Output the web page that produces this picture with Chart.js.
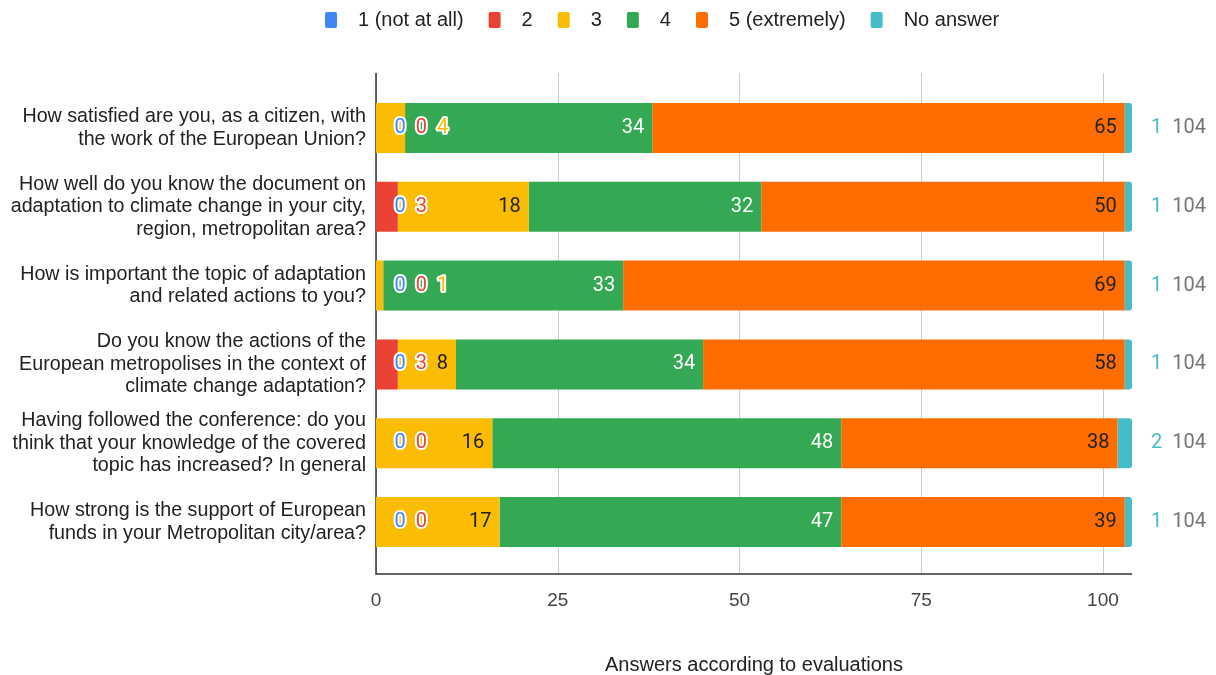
<!DOCTYPE html>
<html>
<head>
<meta charset="utf-8">
<script src="https://cdn.jsdelivr.net/npm/chart.js@4"></script>
<style>
html, body { margin: 0; padding: 0; background: #fff; }
#holder { width: 1216px; height: 675px; }
</style>
</head>
<body>
<div id="holder"><canvas id="myChart" width="1216" height="675"></canvas></div>
<script>
// questions (y categories)
const questions = [
    ['How satisfied are you, as a citizen, with', 'the work of the European Union?'],
    ['How well do you know the document on', 'adaptation to climate change in your city,', 'region, metropolitan area?'],
    ['How is important the topic of adaptation', 'and related actions to you?'],
    ['Do you know the actions of the', 'European metropolises in the context of', 'climate change adaptation?'],
    ['Having followed the conference: do you', 'think that your knowledge of the covered', 'topic has increased? In general'],
    ['How strong is the support of European', 'funds in your Metropolitan city/area?']
];

const seriesNames = ['1 (not at all)', '2', '3', '4', '5 (extremely)', 'No answer'];
const seriesColors = ['#4285F4', '#EA4335', '#FBBC04', '#34A853', '#FF6D01', '#46BDC6'];
// colour of a label when it sits inside its own bar
const insideColors = ['#ffffff', '#ffffff', '#222222', '#ffffff', '#222222', '#ffffff'];

const notAtAll  = [0, 0, 0, 0, 0, 0];
const two       = [0, 3, 0, 3, 0, 0];
const three     = [4, 18, 1, 8, 16, 17];
const four      = [34, 32, 33, 34, 48, 47];
const extremely = [65, 50, 69, 58, 38, 39];
const noAnswer  = [1, 1, 1, 1, 2, 1];

const xTicks = [0, 25, 50, 75, 100];
const xMax = 104;
const xTitle = 'Answers according to evaluations';

const allSeries = [notAtAll, two, three, four, extremely, noAnswer];

// gridlines + axis lines, a bit taller than the chart area like the original
const gridPlugin = {
    id: 'gridLines',
    beforeDatasetsDraw(chart) {
        const ctx = chart.ctx;
        const xs = chart.scales.x;
        const area = chart.chartArea;
        const top = area.top - 15.5;
        const bottom = area.bottom + 12.5;
        ctx.save();
        ctx.lineWidth = 1;
        ctx.strokeStyle = '#cccccc';
        xs.ticks.forEach(t => {
            const px = Math.round(xs.getPixelForValue(t.value)) + 0.5;
            ctx.beginPath();
            ctx.moveTo(px, top);
            ctx.lineTo(px, bottom);
            ctx.stroke();
        });
        ctx.strokeStyle = '#333333';
        ctx.lineWidth = 1.5;
        ctx.beginPath();
        ctx.moveTo(area.left, top);
        ctx.lineTo(area.left, bottom);
        ctx.lineTo(area.right, bottom);
        ctx.stroke();
        ctx.restore();
    }
};

// value labels: inside the segment when room, else packed from the left with a halo
const labelPlugin = {
    id: 'segLabels',
    afterDatasetsDraw(chart) {
        const ctx = chart.ctx;
        const xs = chart.scales.x;
        const last = chart.data.datasets.length - 1;
        ctx.save();
        ctx.font = '20px Roboto';
        ctx.textBaseline = 'middle';
        ctx.textAlign = 'left';
        ctx.lineJoin = 'round';
        for (let i = 0; i < chart.data.labels.length; i++) {
            let cursor = xs.left + 18.5;
            for (let d = 0; d < last; d++) {
                const bar = chart.getDatasetMeta(d).data[i];
                const v = chart.data.datasets[d].data[i];
                const txt = String(v);
                const w = ctx.measureText(txt).width;
                const start = Math.min(bar.base, bar.x);
                const end = Math.max(bar.base, bar.x);
                const inLeft = end - 8 - w;
                if (v > 0 && inLeft >= start + 6 && inLeft >= cursor - 4) {
                    ctx.fillStyle = insideColors[d];
                    ctx.fillText(txt, inLeft, bar.y);
                    cursor = end + 8;
                } else {
                    ctx.lineWidth = 4;
                    ctx.strokeStyle = '#ffffff';
                    ctx.strokeText(txt, cursor, bar.y);
                    ctx.fillStyle = seriesColors[d];
                    ctx.fillText(txt, cursor, bar.y);
                    cursor += w + 10;
                }
            }
            // "No answer" value and the row total, after the bar end
            const nb = chart.getDatasetMeta(last).data[i];
            const na = String(chart.data.datasets[last].data[i]);
            let x = Math.max(nb.x, nb.base) + 19;
            ctx.fillStyle = seriesColors[last];
            ctx.fillText(na, x, nb.y);
            x += ctx.measureText(na).width + 10;
            const total = chart.data.datasets.reduce((s, ds) => s + ds.data[i], 0);
            ctx.fillStyle = '#757575';
            ctx.fillText(String(total), x, nb.y);
        }
        ctx.restore();
    }
};

// legend row at the top
const legendPlugin = {
    id: 'topLegend',
    afterDraw(chart) {
        const ctx = chart.ctx;
        ctx.save();
        ctx.font = '20px "Liberation Sans", Arial, sans-serif';
        ctx.textBaseline = 'middle';
        ctx.textAlign = 'left';
        let x = 325;
        const y = 20;
        chart.data.datasets.forEach(ds => {
            ctx.fillStyle = ds.backgroundColor;
            ctx.beginPath();
            ctx.roundRect(x, y - 8, 12, 16, 2);
            ctx.fill();
            ctx.fillStyle = '#222222';
            ctx.fillText(ds.label, x + 33, y);
            x += 33 + ctx.measureText(ds.label).width + 25;
        });
        ctx.restore();
    }
};

const ctx = document.getElementById('myChart').getContext('2d');

const datasets = seriesNames.map((name, k) => ({
    label: name,
    data: allSeries[k],
    backgroundColor: seriesColors[k],
    borderWidth: 0,
    borderRadius: k === seriesNames.length - 1 ? 3 : 0,
    borderSkipped: 'start',
    barPercentage: 0.634,
    categoryPercentage: 1
}));

const myChart = new Chart(ctx, {
    type: 'bar',
    data: {
        labels: questions,
        datasets: datasets
    },
    options: {
        indexAxis: 'y',
        responsive: false,
        animation: false,
        devicePixelRatio: 1,
        layout: { padding: { top: 88.5, right: 84, bottom: 0, left: 0 } },
        plugins: {
            legend: { display: false },
            tooltip: { enabled: false }
        },
        scales: {
            x: {
                stacked: true,
                min: 0,
                max: xMax,
                afterBuildTicks: s => { s.ticks = xTicks.map(v => ({ value: v })); },
                afterFit: s => { s.height = 113.5; },
                grid: { display: false, drawTicks: false },
                border: { display: false },
                ticks: {
                    padding: 28,
                    color: '#444444',
                    font: { family: '"Liberation Sans", Arial, sans-serif', size: 19 }
                },
                title: {
                    display: true,
                    text: xTitle,
                    color: '#222222',
                    padding: { top: 0, bottom: 0 },
                    font: { family: '"Liberation Sans", Arial, sans-serif', size: 20, lineHeight: 1 }
                }
            },
            y: {
                stacked: true,
                afterFit: s => { s.width = 376; },
                grid: { display: false, drawTicks: false },
                border: { display: false },
                ticks: {
                    padding: 10,
                    color: '#222222',
                    font: { family: '"Liberation Sans", Arial, sans-serif', size: 19.7, lineHeight: 1.14 }
                }
            }
        }
    },
    plugins: [gridPlugin, labelPlugin, legendPlugin]
});
</script>
</body>
</html>
